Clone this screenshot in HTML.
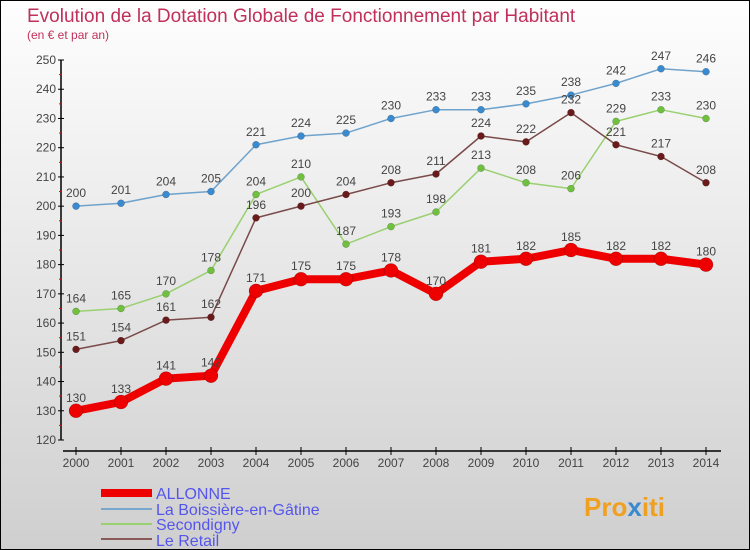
<!DOCTYPE html>
<html><head><meta charset="utf-8"><style>
body{margin:0;}
#c{position:relative;width:748px;height:548px;border:1px solid #000;background:linear-gradient(#fefefe,#f0f0f0 30%,#cfcfcf);font-family:"Liberation Sans",sans-serif;overflow:hidden}
</style></head><body>
<div id="c">
<svg id="s" width="748" height="548">
<text x="26" y="21" font-size="19" fill="#c0305a">Evolution de la Dotation Globale de Fonctionnement par Habitant</text>
<text x="26" y="38" font-size="12" fill="#c0305a">(en € et par an)</text>
<g id="ax"></g><g id="ser"></g>
<g>
<line x1="100" y1="492" x2="151" y2="492" stroke="#e00" stroke-width="8"/>
<text x="155" y="498" font-size="16" fill="#5555ee">ALLONNE</text>
<line x1="100" y1="508" x2="151" y2="508" stroke="#7aa8cc" stroke-width="2"/>
<text x="155" y="514" font-size="16" fill="#5555ee">La Boissière-en-Gâtine</text>
<line x1="100" y1="523" x2="151" y2="523" stroke="#99d070" stroke-width="2"/>
<text x="155" y="529" font-size="16" fill="#5555ee">Secondigny</text>
<line x1="100" y1="538" x2="151" y2="538" stroke="#8a5a5a" stroke-width="2"/>
<text x="155" y="545" font-size="16" fill="#5555ee">Le Retail</text>
</g>
<text x="583" y="515" font-size="26" font-weight="bold" fill="#f0a020">Pro<tspan fill="#3a8ad0">x</tspan>iti</text>
</svg></div>
<script>
const years=[2000,2001,2002,2003,2004,2005,2006,2007,2008,2009,2010,2011,2012,2013,2014];
const allonne=[130,133,141,142,171,175,175,178,170,181,182,185,182,182,180];
const boissiere=[200,201,204,205,221,224,225,230,233,233,235,238,242,247,246];
const secondigny=[164,165,170,178,204,210,187,193,198,213,208,206,229,233,230];
const retail=[151,154,161,162,196,200,204,208,211,224,222,232,221,217,208];
const yTicks=[120,130,140,150,160,170,180,190,200,210,220,230,240,250];
const NS="http://www.w3.org/2000/svg";
const X=i=>75+i*45, Y=v=>439-(v-120)*2.923;
function mk(p,t,a){const e=document.createElementNS(NS,t);for(const k in a)e.setAttribute(k,a[k]);p.appendChild(e);return e;}
const ax=document.getElementById('ax'), ser=document.getElementById('ser');
let l=mk(ax,'line',{x1:60,y1:Y(250),x2:60,y2:Y(120),stroke:'#000','stroke-width':1.5});


l=mk(ax,'line',{x1:62,y1:450,x2:720,y2:450,stroke:'#000','stroke-width':1.5});


yTicks.forEach((v,i)=>{
 mk(ax,'line',{x1:57,y1:Y(v),x2:63,y2:Y(v),stroke:'#000'});
 if(i<yTicks.length-1) mk(ax,'line',{x1:58,y1:Y(v+5),x2:61,y2:Y(v+5),stroke:'#e00'});
 const t=mk(ax,'text',{x:55,y:Y(v)+4,'font-size':12,'text-anchor':'end',fill:'#444'});t.textContent=v;
 
 
});
years.forEach((y,i)=>{
 mk(ax,'line',{x1:X(i),y1:446,x2:X(i),y2:454,stroke:'#000'});
 const t=mk(ax,'text',{x:X(i),y:466,'font-size':12,'text-anchor':'middle',fill:'#444'});t.textContent=y;
 
 
});
function series(d,name,col,w,r,dot){
 const g=mk(ser,'g',{});
 
 
 mk(g,'polyline',{points:d.map((v,i)=>X(i)+','+Y(v)).join(' '),fill:'none',stroke:col,'stroke-width':w,'stroke-linejoin':'round'});
 d.forEach((v,i)=>{
  const c=mk(g,'circle',{cx:X(i),cy:Y(v),r:r,fill:dot,stroke:'rgba(0,0,0,0.3)','stroke-width':0.5});
  
  
  const t=mk(g,'text',{x:X(i),y:Y(v)-9,'font-size':12,'text-anchor':'middle',fill:'#444'});t.textContent=v;
  
  
 });
}
series(boissiere,'boissiere','#6fa3cc',1.5,3.5,'#3a8ad0');
series(secondigny,'secondigny','#99d070',1.5,3.5,'#70c040');
series(retail,'le-retail','#7a4a4a',1.5,3.5,'#6a1a1a');
series(allonne,'allonne','#e00',8,7,'#e00');
</script>
</body></html>
